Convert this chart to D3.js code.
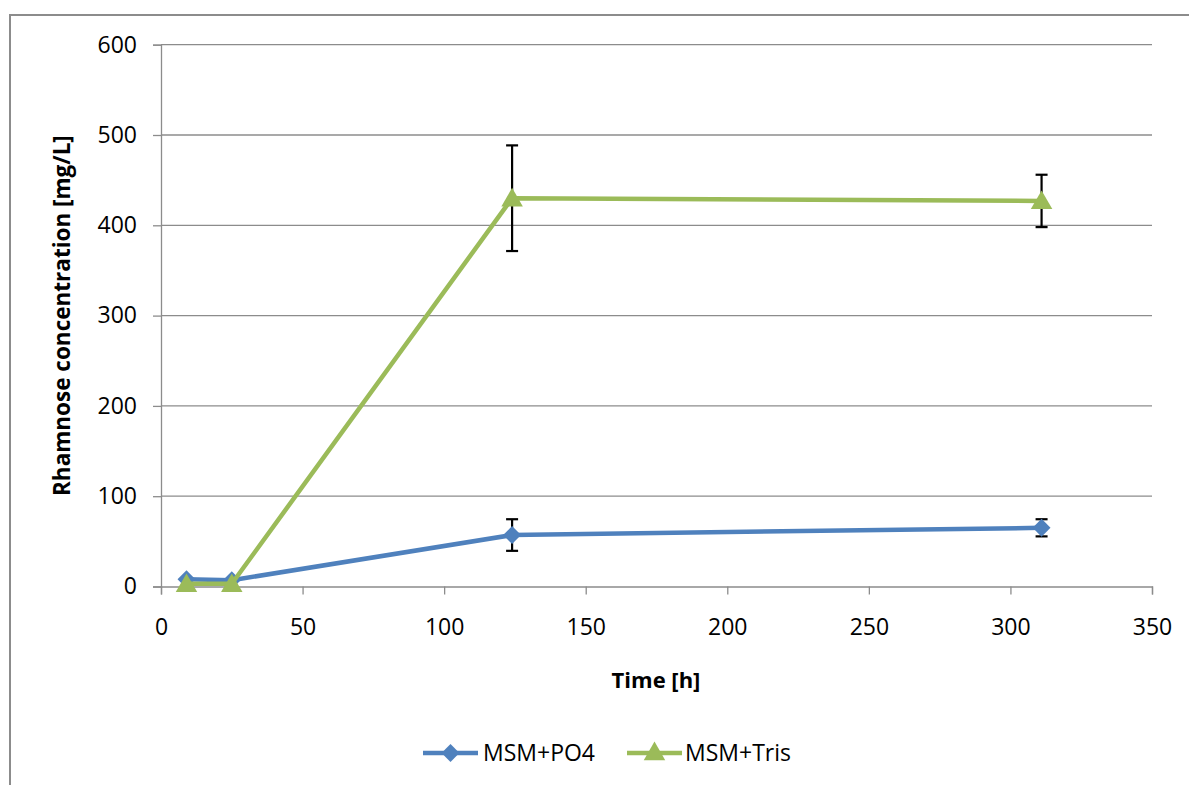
<!DOCTYPE html>
<html><head><meta charset="utf-8">
<script src="https://cdn.jsdelivr.net/npm/d3@7"></script>
<style>body{margin:0;background:#fff;}svg{display:block;font-family:"Open Sans",sans-serif;}</style>
</head><body>
<svg id="c" width="1189" height="785"></svg>
<script>
const seriesNames = ["MSM+PO4", "MSM+Tris"];
const timeHours = [9, 25, 124, 311];
const po4Values = [8, 7, 57, 65];
const po4Errors = [0, 0, 17.5, 9.5];
const trisValues = [3, 3, 430, 427];
const trisErrors = [0, 0, 58.5, 29];
const xTicks = [0, 50, 100, 150, 200, 250, 300, 350];
const yTicks = [0, 100, 200, 300, 400, 500, 600];

const svg = d3.select("#c");
const x = d3.scaleLinear().domain([0, 350]).range([161, 1152]);
const y = d3.scaleLinear().domain([0, 600]).range([586.5, 44.7]);
const blue = "#4F81BD", green = "#9BBB59", grid = "#8c8c8c";

// outer border
svg.append("rect").attr("x", 10).attr("y", 15).attr("width", 1200).attr("height", 800)
  .attr("fill", "none").attr("stroke", "#8c8c8c").attr("stroke-width", 2);

// gridlines
svg.append("g").selectAll("line").data(yTicks.filter(d => d > 0)).join("line")
  .attr("x1", x(0)).attr("x2", x(350)).attr("y1", d => y(d)).attr("y2", d => y(d))
  .attr("stroke", grid).attr("stroke-width", 1.3);

// y axis
const ya = svg.append("g").attr("transform", `translate(${x(0)},0)`)
  .call(d3.axisLeft(y).tickValues(yTicks).tickSize(8).tickPadding(16));
ya.select(".domain").attr("stroke", grid).attr("stroke-width", 1.3);
ya.selectAll(".tick line").attr("stroke", grid).attr("stroke-width", 1.3);
ya.selectAll(".tick text").attr("font-size", 23).attr("fill", "#000").attr("font-family", "Open Sans");

// x axis
const xa = svg.append("g").attr("transform", `translate(0,${y(0)})`)
  .call(d3.axisBottom(x).tickValues(xTicks).tickSize(8).tickSizeOuter(8).tickPadding(24));
xa.select(".domain").attr("stroke", grid).attr("stroke-width", 1.3);
xa.selectAll(".tick line").attr("stroke", grid).attr("stroke-width", 1.3);
xa.selectAll(".tick text").attr("font-size", 23).attr("fill", "#000").attr("font-family", "Open Sans");

// axis titles
svg.append("text").attr("x", 656).attr("y", 688).attr("text-anchor", "middle")
  .attr("font-size", 22).attr("font-weight", "bold").text("Time [h]");
svg.append("text").attr("transform", `translate(70,${(y(0)+y(600))/2}) rotate(-90)`)
  .attr("text-anchor", "middle").attr("font-size", 22.5).attr("font-weight", "bold")
  .text("Rhamnose concentration [mg/L]");

const diamond = {draw(ctx, size) { const r = Math.sqrt(size / 2); ctx.moveTo(0, -r); ctx.lineTo(r, 0); ctx.lineTo(0, r); ctx.lineTo(-r, 0); ctx.closePath(); }};
const series = [
  {name: seriesNames[0], vals: po4Values, errs: po4Errors, color: blue, sym: diamond, size: 160, dy: 0},
  {name: seriesNames[1], vals: trisValues, errs: trisErrors, color: green, sym: d3.symbolTriangle, size: 200, dy: 2}
];
const line = d3.line().x(d => x(d.t)).y(d => y(d.v));

series.forEach(s => {
  const pts = timeHours.map((t, i) => ({t, v: s.vals[i], e: s.errs[i]}));
  svg.append("path").datum(pts).attr("d", line).attr("fill", "none")
    .attr("stroke", s.color).attr("stroke-width", 4.5).attr("stroke-linejoin", "round");
  const eb = svg.append("g").attr("stroke", "#000").attr("stroke-width", 2.2);
  pts.filter(d => d.e > 0).forEach(d => {
    eb.append("line").attr("x1", x(d.t)).attr("x2", x(d.t)).attr("y1", y(d.v + d.e)).attr("y2", y(d.v - d.e));
    [d.v + d.e, d.v - d.e].forEach(v => {
      eb.append("line").attr("x1", x(d.t) - 6).attr("x2", x(d.t) + 6).attr("y1", y(v)).attr("y2", y(v));
    });
  });
  svg.append("g").selectAll("path").data(pts).join("path")
    .attr("transform", d => `translate(${x(d.t)},${y(d.v) + s.dy})`)
    .attr("d", d3.symbol().type(s.sym).size(s.size))
    .attr("fill", s.color);
});

// legend
const leg = [{x: 423, tx: 483}, {x: 627, tx: 685}];
series.forEach((s, i) => {
  const g = svg.append("g");
  g.append("line").attr("x1", leg[i].x).attr("x2", leg[i].x + 55).attr("y1", 753).attr("y2", 753)
    .attr("stroke", s.color).attr("stroke-width", 4.5);
  g.append("path").attr("transform", `translate(${leg[i].x + 27.5},${753 + s.dy / 2})`)
    .attr("d", d3.symbol().type(s.sym).size(s.size)).attr("fill", s.color);
  g.append("text").attr("x", leg[i].tx).attr("y", 761).attr("font-size", 23).text(s.name);
});
</script>
</body></html>
